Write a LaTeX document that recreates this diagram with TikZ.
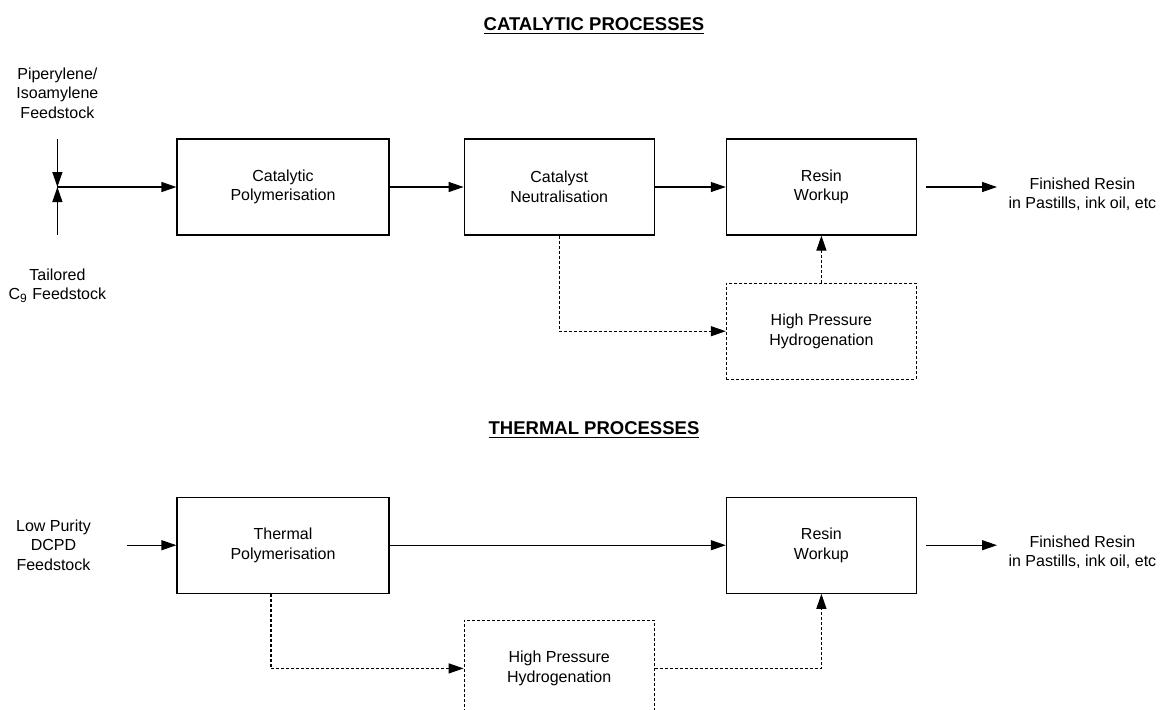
\documentclass[tikz,border=0pt]{standalone}
\usepackage{fontspec}
\setmainfont{Liberation Sans}
\usetikzlibrary{positioning, arrows.meta}
\tikzset{>={Triangle[length=7.5pt,width=5pt]}}

\begin{document}
\begin{tikzpicture}[->, x=0.5pt, y=-0.5pt, line width=0.6pt, font=\fontsize{8}{9.75}\selectfont]
  \tikzstyle{unit}=[rectangle, draw, align=center, minimum width=95pt, minimum height=48pt]
  \tikzstyle{wide}=[minimum width=106pt]
  \tikzstyle{optional}=[dash pattern=on 1.5pt off 1pt]
  \tikzstyle{feed}=[align=center, inner sep=0pt]
  \tikzstyle{heading}=[font=\fontsize{9.25}{11}\selectfont\bfseries, inner sep=0pt, anchor=base]

  \clip (0,0) rectangle (1165,709);

  % catalytic processes
  \node[heading] (ctitle) at (594,30) {\underline{CATALYTIC PROCESSES}};
  \node[unit, wide] (cpoly) at (283,187) {Catalytic\\Polymerisation};
  \node[unit] (cneut) [right=37pt of cpoly] {Catalyst\\Neutralisation};
  \node[unit] (cwork) [right=35.5pt of cneut] {Resin\\Workup};
  \node[unit, optional] (chyd) [below=23.5pt of cwork] {High Pressure\\Hydrogenation};
  \node[feed] (cfin) [right=45.5pt of cwork, yshift=-3.5pt] {Finished Resin\\in Pastills, ink oil, etc};

  \coordinate (cjoin) at ([xshift=-59.5pt]cpoly.west);
  \coordinate (ctop) at ([yshift=24pt]cjoin);
  \coordinate (cbot) at ([yshift=-24pt]cjoin);
  \node[feed] (cfeed1) [above=10pt of ctop] {Piperylene/\\Isoamylene\\Feedstock};
  \node[feed] (cfeed2) [below=16.5pt of cbot] {Tailored\\C\textsubscript{9} Feedstock};

  \path (ctop) edge (cjoin);
  \path (cbot) edge (cjoin);
  \path (cjoin) edge (cpoly);
  \path (cpoly) edge (cneut);
  \path (cneut) edge (cwork);
  \draw[optional] (cneut) |- (chyd);
  \path (chyd) edge[optional] (cwork);
  \draw[shorten <=4.5pt, shorten >=5.5pt] (cwork.east) -- (cwork.east -| cfin.west);

  % thermal processes
  \node[heading] (ttitle) at (594,434) {\underline{THERMAL PROCESSES}};
  \node[unit, wide] (tpoly) [below=130.5pt of cpoly] {Thermal\\Polymerisation};
  \node[unit] (twork) at (tpoly -| cwork) {Resin\\Workup};
  \coordinate (tgap) at (tpoly.south -| cneut);
  \node[unit, optional] (thyd) [below=13pt of tgap] {High Pressure\\Hydrogenation};
  \node[feed] (tfeed) [left=42.5pt of tpoly] {Low Purity\\DCPD\\Feedstock};
  \node[feed] (tfin) [right=45.5pt of twork, yshift=-3.5pt] {Finished Resin\\in Pastills, ink oil, etc};

  \path (tfeed) edge[shorten <=18pt] (tpoly);
  \path (tpoly) edge (twork);
  \draw[optional] ([xshift=-6pt]tpoly.south) |- (thyd);
  \draw[optional] (thyd) -| (twork);
  \draw[shorten <=4.5pt, shorten >=5.5pt] (twork.east) -- (twork.east -| tfin.west);
\end{tikzpicture}
\end{document}
